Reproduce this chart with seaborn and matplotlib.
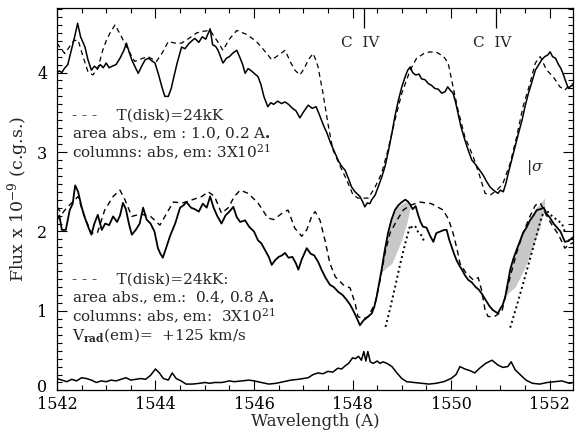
import numpy as np
import pandas as pd
import matplotlib
matplotlib.use("Agg")
import matplotlib.pyplot as plt
from matplotlib.ticker import MultipleLocator
from matplotlib.transforms import ScaledTranslation
import seaborn as sns

# ---------------- data ----------------
top_solid_wl = [1542.00,1542.05,1542.10,1542.15,1542.22,1542.30,1542.36,1542.42,1542.48,1542.57,1542.63,1542.70,1542.76,1542.82,1542.88,1542.94,1543.00,1543.06,1543.12,1543.20,1543.28,1543.36,1543.41,1543.47,1543.52,1543.58,1543.65,1543.72,1543.79,1543.86,1543.92,1543.99,1544.06,1544.13,1544.19,1544.26,1544.32,1544.36,1544.44,1544.53,1544.60,1544.67,1544.74,1544.80,1544.88,1544.95,1545.02,1545.11,1545.16,1545.22,1545.27,1545.32,1545.37,1545.44,1545.50,1545.58,1545.65,1545.72,1545.77,1545.82,1545.88,1545.95,1546.02,1546.08,1546.14,1546.20,1546.28,1546.34,1546.40,1546.48,1546.56,1546.63,1546.70,1546.78,1546.85,1546.93,1547.00,1547.10,1547.18,1547.26,1547.32,1547.37,1547.42,1547.48,1547.55,1547.65,1547.72,1547.78,1547.85,1547.92,1547.98,1548.05,1548.10,1548.15,1548.20,1548.25,1548.30,1548.35,1548.39,1548.46,1548.52,1548.59,1548.66,1548.73,1548.80,1548.86,1548.93,1549.00,1549.07,1549.12,1549.17,1549.22,1549.28,1549.35,1549.40,1549.47,1549.54,1549.60,1549.67,1549.74,1549.81,1549.88,1549.93,1549.98,1550.04,1550.09,1550.14,1550.20,1550.28,1550.35,1550.42,1550.50,1550.58,1550.65,1550.72,1550.79,1550.86,1550.95,1551.00,1551.06,1551.11,1551.16,1551.23,1551.30,1551.37,1551.44,1551.50,1551.57,1551.64,1551.71,1551.78,1551.84,1551.90,1551.96,1552.01,1552.06,1552.12,1552.18,1552.23,1552.27,1552.32,1552.38,1552.43,1552.48]
top_solid_flux = [4.00,4.02,4.00,4.05,4.10,4.30,4.45,4.62,4.45,4.32,4.16,4.03,4.08,4.05,4.10,4.06,4.12,4.06,4.08,4.10,4.18,4.28,4.37,4.25,4.16,4.08,3.99,4.08,4.16,4.18,4.15,4.12,3.98,3.82,3.70,3.70,3.80,3.91,4.12,4.32,4.30,4.36,4.40,4.43,4.38,4.45,4.42,4.55,4.35,4.33,4.28,4.20,4.12,4.18,4.20,4.25,4.28,4.18,4.10,3.99,4.05,4.02,3.98,3.95,3.85,3.70,3.57,3.62,3.60,3.64,3.61,3.63,3.60,3.55,3.52,3.43,3.50,3.59,3.55,3.57,3.48,3.40,3.32,3.24,3.12,2.98,2.88,2.82,2.77,2.66,2.56,2.50,2.47,2.44,2.38,2.31,2.36,2.35,2.40,2.46,2.56,2.68,2.82,3.02,3.24,3.45,3.65,3.82,3.95,4.03,4.07,4.00,3.97,3.98,3.92,3.91,3.86,3.84,3.80,3.79,3.74,3.76,3.82,3.78,3.74,3.63,3.49,3.32,3.15,3.02,2.90,2.84,2.77,2.71,2.63,2.56,2.52,2.48,2.52,2.50,2.60,2.73,2.90,3.07,3.24,3.40,3.57,3.74,3.88,4.03,4.10,4.16,4.20,4.22,4.26,4.20,4.18,4.10,4.05,3.99,3.90,3.80,3.83,3.84]

top_dash_wl = [1542.00,1542.08,1542.16,1542.25,1542.34,1542.43,1542.52,1542.63,1542.73,1542.83,1542.93,1543.00,1543.08,1543.18,1543.31,1543.45,1543.58,1543.70,1543.85,1544.02,1544.14,1544.26,1544.40,1544.53,1544.68,1544.84,1544.98,1545.11,1545.25,1545.37,1545.50,1545.65,1545.85,1546.05,1546.26,1546.36,1546.50,1546.63,1546.75,1546.83,1546.93,1547.02,1547.10,1547.20,1547.26,1547.30,1547.40,1547.50,1547.60,1547.75,1547.88,1548.01,1548.11,1548.22,1548.32,1548.45,1548.59,1548.72,1548.86,1549.00,1549.17,1549.30,1549.45,1549.57,1549.72,1549.85,1549.94,1550.04,1550.14,1550.28,1550.45,1550.58,1550.69,1550.80,1550.93,1551.05,1551.20,1551.33,1551.46,1551.60,1551.71,1551.81,1551.94,1552.07,1552.21,1552.31,1552.40,1552.48]
top_dash_flux = [4.37,4.30,4.24,4.32,4.40,4.41,4.22,4.01,3.97,4.05,4.28,4.40,4.50,4.60,4.45,4.28,4.14,4.17,4.20,4.14,4.25,4.39,4.37,4.37,4.43,4.50,4.52,4.53,4.40,4.28,4.42,4.53,4.48,4.39,4.24,4.16,4.22,4.28,4.12,4.03,3.97,4.05,4.16,4.24,4.15,4.07,3.74,3.36,3.03,2.82,2.65,2.46,2.42,2.42,2.42,2.55,2.73,3.03,3.40,3.74,4.03,4.18,4.24,4.26,4.25,4.20,4.12,3.82,3.53,3.19,2.94,2.70,2.48,2.46,2.52,2.60,2.86,3.19,3.57,3.86,4.12,4.20,4.03,3.95,3.82,3.78,3.84,3.86]

low_solid_wl = [1542.00,1542.05,1542.10,1542.18,1542.26,1542.32,1542.37,1542.43,1542.50,1542.58,1542.64,1542.70,1542.76,1542.83,1542.91,1542.98,1543.06,1543.14,1543.22,1543.28,1543.34,1543.40,1543.46,1543.52,1543.60,1543.68,1543.75,1543.82,1543.90,1543.98,1544.05,1544.10,1544.15,1544.22,1544.30,1544.40,1544.50,1544.57,1544.63,1544.72,1544.80,1544.88,1544.96,1545.04,1545.11,1545.18,1545.25,1545.34,1545.42,1545.50,1545.58,1545.65,1545.72,1545.82,1545.90,1546.00,1546.08,1546.15,1546.22,1546.30,1546.36,1546.43,1546.50,1546.57,1546.63,1546.70,1546.78,1546.85,1546.90,1546.97,1547.07,1547.15,1547.22,1547.30,1547.37,1547.45,1547.54,1547.62,1547.71,1547.80,1547.88,1547.95,1548.01,1548.08,1548.15,1548.22,1548.30,1548.39,1548.44,1548.49,1548.54,1548.59,1548.65,1548.72,1548.79,1548.86,1548.93,1549.00,1549.07,1549.12,1549.17,1549.22,1549.28,1549.33,1549.38,1549.43,1549.50,1549.57,1549.64,1549.70,1549.78,1549.86,1549.91,1549.96,1550.01,1550.06,1550.11,1550.16,1550.22,1550.28,1550.35,1550.42,1550.50,1550.56,1550.62,1550.70,1550.78,1550.85,1550.95,1551.00,1551.05,1551.10,1551.15,1551.20,1551.26,1551.33,1551.40,1551.46,1551.53,1551.60,1551.67,1551.74,1551.81,1551.88,1551.94,1552.00,1552.08,1552.15,1552.22,1552.31,1552.38,1552.48]
low_solid_flux = [2.14,2.20,2.02,2.02,2.27,2.35,2.58,2.50,2.31,2.15,2.05,1.96,2.10,2.21,2.02,2.10,2.08,2.19,2.12,2.20,2.36,2.28,2.10,1.96,2.02,2.10,2.30,2.15,2.10,2.00,1.79,1.72,1.67,1.80,1.95,2.10,2.30,2.33,2.37,2.30,2.28,2.25,2.35,2.30,2.44,2.30,2.20,2.10,2.20,2.25,2.31,2.18,2.12,2.14,2.06,2.00,1.89,1.85,1.77,1.68,1.58,1.64,1.68,1.70,1.73,1.67,1.68,1.60,1.52,1.65,1.79,1.72,1.70,1.62,1.52,1.42,1.33,1.30,1.24,1.20,1.14,1.08,1.01,0.92,0.82,0.88,0.92,0.97,1.05,1.18,1.35,1.52,1.75,1.98,2.15,2.27,2.33,2.37,2.40,2.38,2.34,2.28,2.32,2.21,2.12,2.06,2.05,1.95,1.87,1.98,2.00,2.02,2.02,1.90,1.81,1.72,1.64,1.58,1.52,1.45,1.39,1.36,1.30,1.27,1.22,1.14,1.06,1.01,0.97,1.03,1.08,1.18,1.35,1.52,1.65,1.77,1.88,1.98,2.05,2.14,2.20,2.27,2.28,2.30,2.22,2.18,2.10,2.05,2.00,1.87,1.88,1.93]

low_dash_wl = [1542.00,1542.10,1542.20,1542.30,1542.43,1542.55,1542.70,1542.82,1542.97,1543.14,1543.28,1543.38,1543.52,1543.70,1543.90,1544.09,1544.22,1544.36,1544.55,1544.75,1544.94,1545.07,1545.20,1545.34,1545.48,1545.60,1545.72,1545.88,1546.08,1546.28,1546.40,1546.55,1546.69,1546.83,1546.97,1547.07,1547.17,1547.24,1547.34,1547.44,1547.54,1547.65,1547.81,1547.95,1548.05,1548.11,1548.22,1548.32,1548.46,1548.56,1548.66,1548.76,1548.90,1549.03,1549.17,1549.37,1549.60,1549.84,1549.95,1550.04,1550.12,1550.18,1550.30,1550.45,1550.55,1550.62,1550.69,1550.75,1550.88,1551.03,1551.13,1551.23,1551.33,1551.46,1551.60,1551.71,1551.81,1551.92,1552.05,1552.18,1552.31,1552.40,1552.48]
low_dash_flux = [2.31,2.22,2.30,2.36,2.44,2.20,1.98,1.98,2.27,2.44,2.52,2.40,2.19,2.22,2.19,2.08,2.22,2.37,2.36,2.40,2.44,2.50,2.44,2.23,2.30,2.44,2.52,2.48,2.36,2.17,2.15,2.22,2.27,2.04,1.94,2.02,2.19,2.25,2.14,1.89,1.60,1.43,1.33,1.29,1.10,0.93,0.90,0.93,1.10,1.39,1.73,1.98,2.14,2.27,2.33,2.37,2.35,2.27,2.15,1.98,1.78,1.60,1.48,1.39,1.42,1.26,1.01,0.93,0.93,0.99,1.26,1.50,1.73,1.98,2.19,2.33,2.36,2.22,2.08,1.96,1.79,1.84,1.86]

dot1_wl = [1548.67,1548.77,1548.87,1548.97,1549.07,1549.17,1549.22,1549.28,1549.34,1549.40,1549.45]
dot1_flux = [0.80,1.05,1.32,1.60,1.85,2.08,2.04,2.06,1.98,1.95,1.88]
dot2_wl = [1551.20,1551.33,1551.46,1551.60,1551.72,1551.84,1551.92,1552.00,1552.08,1552.16,1552.25,1552.32]
dot2_flux = [0.79,1.06,1.34,1.65,1.92,2.19,2.28,2.22,2.18,2.14,2.10,1.98]

band1_wl = [1548.58,1548.65,1548.70,1548.80,1548.90,1549.00,1549.10,1549.17]
band1_lo = [1.50,1.52,1.55,1.60,1.75,1.90,2.10,2.30]
band1_hi = [1.52,1.75,1.95,2.20,2.30,2.35,2.38,2.35]
band2_wl = [1551.10,1551.20,1551.30,1551.40,1551.50,1551.60,1551.70,1551.80,1551.90]
band2_lo = [1.18,1.25,1.30,1.42,1.55,1.70,1.88,2.05,2.30]
band2_hi = [1.25,1.55,1.75,1.95,2.05,2.15,2.28,2.35,2.42]

bot_wl = [1542.00,1542.10,1542.20,1542.30,1542.40,1542.50,1542.60,1542.70,1542.80,1542.90,1543.00,1543.10,1543.20,1543.30,1543.40,1543.50,1543.60,1543.70,1543.80,1543.90,1544.00,1544.08,1544.16,1544.26,1544.34,1544.42,1544.52,1544.62,1544.75,1544.90,1545.00,1545.10,1545.20,1545.35,1545.50,1545.60,1545.75,1545.90,1546.00,1546.15,1546.30,1546.45,1546.60,1546.75,1546.90,1547.00,1547.10,1547.20,1547.30,1547.40,1547.50,1547.60,1547.70,1547.78,1547.85,1547.92,1548.00,1548.06,1548.12,1548.18,1548.23,1548.27,1548.31,1548.36,1548.42,1548.50,1548.56,1548.62,1548.70,1548.80,1548.90,1549.00,1549.10,1549.25,1549.40,1549.55,1549.70,1549.85,1550.00,1550.10,1550.18,1550.28,1550.38,1550.48,1550.58,1550.70,1550.83,1550.95,1551.05,1551.15,1551.22,1551.30,1551.40,1551.52,1551.65,1551.80,1551.95,1552.10,1552.25,1552.40,1552.48]
bot_flux = [0.15,0.13,0.11,0.14,0.12,0.16,0.15,0.13,0.10,0.12,0.11,0.13,0.12,0.14,0.16,0.13,0.14,0.15,0.14,0.19,0.27,0.22,0.15,0.13,0.22,0.15,0.12,0.08,0.08,0.09,0.10,0.09,0.10,0.10,0.12,0.11,0.12,0.13,0.12,0.10,0.08,0.09,0.11,0.13,0.14,0.15,0.16,0.20,0.22,0.21,0.24,0.23,0.28,0.27,0.31,0.34,0.41,0.40,0.43,0.38,0.49,0.37,0.49,0.36,0.34,0.37,0.34,0.36,0.34,0.30,0.22,0.15,0.11,0.10,0.09,0.08,0.09,0.11,0.15,0.20,0.30,0.27,0.25,0.22,0.28,0.34,0.38,0.32,0.29,0.30,0.36,0.26,0.20,0.13,0.09,0.08,0.10,0.11,0.12,0.09,0.10]

civ_wl = [1548.23, 1550.91]
civ_label = "C  IV"
x_ticks = [1542, 1544, 1546, 1548, 1550, 1552]
y_ticks = [0, 1, 2, 3, 4]

upper_text = ["- - -    T(disk)=24kK",
              "area abs., em : 1.0, 0.2 A$_{\\bullet}$",
              "columns: abs, em: 3X10$^{21}$"]
lower_text = ["- - -    T(disk)=24kK:",
              "area abs., em.:  0.4, 0.8 A$_{\\bullet}$",
              "columns: abs, em:  3X10$^{21}$",
              "V$_{\\mathbf{rad}}$(em)=  +125 km/s"]

# ---------------- plot ----------------
sns.set_theme(style="ticks")
plt.rcParams['font.family'] = ['DejaVu Serif']
plt.rcParams['mathtext.fontset'] = 'dejavuserif'

fig = plt.figure(figsize=(5.75, 4.30), dpi=100)
ax = fig.add_axes([0.099, 0.092, 0.898, 0.889])

ax.fill_between(band1_wl, band1_lo, band1_hi, color="#c8c8c8", lw=0, zorder=1)
ax.fill_between(band2_wl, band2_lo, band2_hi, color="#c8c8c8", lw=0, zorder=1)

kw = dict(ax=ax, sort=False, estimator=None, color="black")
sns.lineplot(x=top_solid_wl, y=top_solid_flux, lw=1.1, **kw)
sns.lineplot(x=top_dash_wl, y=top_dash_flux, lw=0.9, **kw)
ax.lines[-1].set_linestyle((0, (4, 3)))
sns.lineplot(x=low_solid_wl, y=low_solid_flux, lw=1.3, **kw)
sns.lineplot(x=low_dash_wl, y=low_dash_flux, lw=1.0, **kw)
ax.lines[-1].set_linestyle((0, (4, 3)))
sns.lineplot(x=dot1_wl, y=dot1_flux, lw=1.4, **kw)
ax.lines[-1].set_linestyle((0, (1, 1.6)))
sns.lineplot(x=dot2_wl, y=dot2_flux, lw=1.4, **kw)
ax.lines[-1].set_linestyle((0, (1, 1.6)))
sns.lineplot(x=bot_wl, y=bot_flux, lw=1.1, **kw)

ax.set_xlim(1542.0, 1552.48)
ax.set_ylim(0, 4.81)
ax.set_xticks(x_ticks)
ax.set_yticks(y_ticks)
ax.xaxis.set_minor_locator(MultipleLocator(0.5))
ax.yaxis.set_minor_locator(MultipleLocator(0.1))
ax.tick_params(which="both", direction="in", top=True, right=True, colors="black",
               labelsize=11.5, width=0.8)
ax.tick_params(which="major", length=7)
ax.tick_params(which="minor", length=3.5)
ax.tick_params(axis="x", which="major", pad=4)
ax.tick_params(axis="y", which="major", pad=7)
for s in ax.spines.values():
    s.set_linewidth(0.9)
    s.set_color("black")

# C IV markers
for w in civ_wl:
    ax.vlines(w, 4.56, 4.81, color="black", lw=0.9)
    ax.text(w - 0.08, 4.37, civ_label, ha="center", va="center", fontsize=11)

# sigma marker
ax.text(1551.71, 2.81, "|$\\sigma$", ha="center", va="center", fontsize=11)

for i, t in enumerate(upper_text):
    ax.text(1542.3, 3.46 - i * 0.232, t, ha="left", va="center", fontsize=11)
for i, t in enumerate(lower_text):
    ax.text(1542.3, 1.40 - i * 0.235, t, ha="left", va="center", fontsize=11)

ax.set_xlabel("Wavelength (A)", fontsize=12, labelpad=0)
ax.set_ylabel("Flux x 10$^{-9}$ (c.g.s.)", fontsize=12.5, labelpad=4)

# lift the "0" label a little, as in the reference
zero_tick = ax.yaxis.get_major_ticks()[0]
zero_tick.label1.set_transform(zero_tick.label1.get_transform()
                               + ScaledTranslation(0, 3.5 / 72, fig.dpi_scale_trans))

fig.savefig("out.png", dpi=100)
